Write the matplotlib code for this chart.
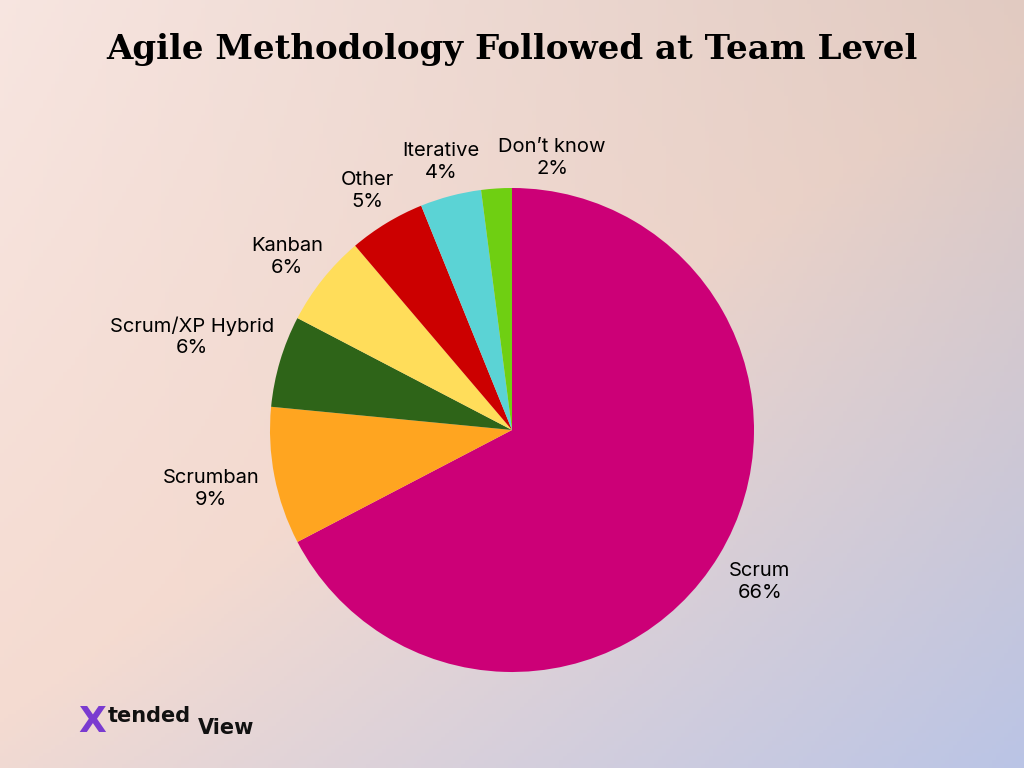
import matplotlib
matplotlib.use("Agg")
import matplotlib.pyplot as plt
import numpy as np

labels = ["Scrum", "Scrumban", "Scrum/XP Hybrid", "Kanban", "Other", "Iterative", "Don't know"]
values = [66, 9, 6, 6, 5, 4, 2]
colors = ["#cc0077", "#ffa520", "#2e6418", "#ffdd5a", "#cc0000", "#5bd3d5", "#6fcf12"]

fig = plt.figure(figsize=(10.24, 7.68), dpi=100)
bg = fig.add_axes([0, 0, 1, 1])
h, w = 200, 260
y, x = np.mgrid[0:1:h*1j, 0:1:w*1j]
t = np.clip((x * 0.6 + y * 0.7) / 1.3, 0, 1)
c1 = np.array([0.97, 0.90, 0.88])
c2 = np.array([0.96, 0.86, 0.82])
c3 = np.array([0.73, 0.77, 0.90])
tt = t[..., None]
img = np.where(tt < 0.5, c1 + (c2 - c1) * tt / 0.5, c2 + (c3 - c2) * (tt - 0.5) / 0.5)
img = img * (1 - 0.08 * (x * (1 - y))[..., None])
bg.imshow(img, extent=[0, 1, 0, 1], aspect="auto", origin="upper")
bg.axis("off")

fig.text(0.5, 0.935, "Agile Methodology Followed at Team Level", ha="center", va="center",
         fontsize=24.5, fontweight="heavy", family="DejaVu Serif")

ax = fig.add_axes([(512 - 242) / 1024, (768 - 430 - 242) / 768, 484 / 1024, 484 / 768])
ax.pie(values, colors=colors, startangle=90, counterclock=False, radius=1,
       wedgeprops=dict(linewidth=0))
ax.set_xlim(-1, 1); ax.set_ylim(-1, 1)
ax.set_aspect("auto")
ax.axis("off")

lab_pos = {
    "Scrum": (760, 582), "Scrumban": (211, 489), "Scrum/XP Hybrid": (192, 337),
    "Kanban": (287, 257), "Other": (367, 191), "Iterative": (441, 162), "Don't know": (552, 158),
}
for lab, v in zip(labels, values):
    px, py = lab_pos[lab]
    name = "Don’t know" if lab == "Don't know" else lab
    fig.text(px / 1024, 1 - py / 768, f"{name}\n{v}%", ha="center", va="center",
             fontsize=14.5, linespacing=1.25, family="Inter")

fig.text(78 / 1024, 1 - 722 / 768, "X", fontsize=26, fontweight="bold", color="#7a3bd0",
         va="center", family="DejaVu Sans")
fig.text(108 / 1024, 1 - 716 / 768, "tended", fontsize=15, fontweight="bold", color="#111111",
         va="center", family="DejaVu Sans")
fig.text(198 / 1024, 1 - 728 / 768, "View", fontsize=15, fontweight="bold", color="#111111",
         va="center", family="DejaVu Sans")

fig.savefig("out.png", dpi=100)
